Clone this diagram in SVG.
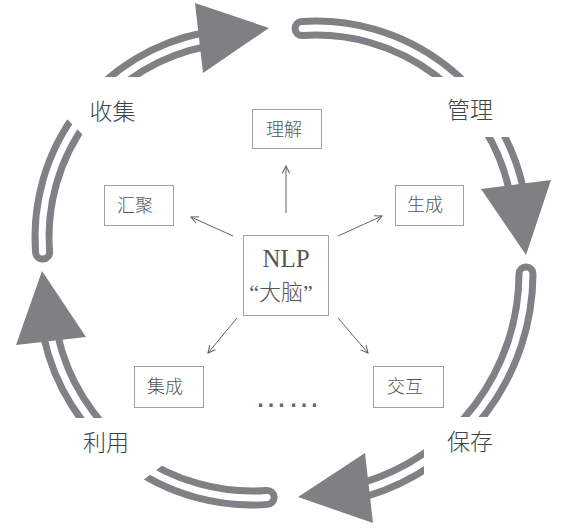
<svg xmlns="http://www.w3.org/2000/svg" width="574" height="528" viewBox="0 0 574 528">
<defs>
<style>
.bo{fill:none;stroke:#808185;stroke-width:21;stroke-linecap:round}
.bi{fill:none;stroke:#ffffff;stroke-width:7;stroke-linecap:round}
.head{fill:#7e8084}
.mask{fill:#ffffff}
.big{font-family:"Noto Sans CJK SC","Noto Sans",sans-serif;font-size:23px;font-weight:300;fill:#3d4449;text-anchor:middle}
.box{fill:#ffffff;stroke:#a0a0a0;stroke-width:1}
.lbl{font-family:"Noto Sans CJK SC","Noto Sans",sans-serif;font-size:18px;font-weight:300;fill:#555555;text-anchor:middle}
.con{stroke:#666666;stroke-width:1;fill:none}
</style>
<marker id="ah" viewBox="0 0 10 10" refX="9" refY="5" markerWidth="9" markerHeight="9" markerUnits="userSpaceOnUse" orient="auto">
<path d="M1,1 L9,5 L1,9" fill="none" stroke="#666666" stroke-width="1.2"/>
</marker>
</defs>
<rect width="574" height="528" fill="#ffffff"/>
<g id="cycle">
<path class="bo" d="M42.6,252.1 A201,201 0 0 1 205,39.6"/>
<path class="bi" d="M42.6,252.1 A201,201 0 0 1 205,39.6"/>
<path class="bo" d="M302.1,28.5 A205,205 0 0 1 516.3,189.5"/>
<path class="bi" d="M302.1,28.5 A205,205 0 0 1 516.3,189.5"/>
<path class="bo" d="M526,274 A226,226 0 0 1 364.4,489.6"/>
<path class="bi" d="M526,274 A226,226 0 0 1 364.4,489.6"/>
<path class="bo" d="M267.1,497.4 A206,206 0 0 1 50.7,335.9"/>
<path class="bi" d="M267.1,497.4 A206,206 0 0 1 50.7,335.9"/>
<polygon class="mask" points="50,102 75,77 175,77 175,152 100,152"/>
<rect class="mask" x="415" y="77" width="125" height="60"/>
<rect class="mask" x="424" y="417" width="136" height="100"/>
<polygon class="mask" points="35,418 135,418 180,452 130,490 35,490"/>
<polygon class="head" points="195,3 269,28 203,73"/>
<polygon class="head" points="481,189 551,180 526,255"/>
<polygon class="head" points="365,453 298,497 373,523"/>
<polygon class="head" points="42,271 86,337 16,345"/>
</g>
<g id="stage-labels">
<text class="big" x="112.5" y="119.5">收集</text>
<text class="big" x="470" y="118">管理</text>
<text class="big" x="470" y="450">保存</text>
<text class="big" x="106" y="451">利用</text>
</g>
<g id="connectors">
<line class="con" x1="286" y1="213" x2="286" y2="166" marker-end="url(#ah)"/>
<line class="con" x1="338" y1="236" x2="382" y2="216" marker-end="url(#ah)"/>
<line class="con" x1="233" y1="236" x2="191" y2="217" marker-end="url(#ah)"/>
<line class="con" x1="237" y1="318" x2="208" y2="353" marker-end="url(#ah)"/>
<line class="con" x1="338" y1="318" x2="368" y2="353" marker-end="url(#ah)"/>
</g>
<g id="node-nlp">
<rect class="box" x="243.5" y="235.5" width="85" height="80"/>
<text x="286" y="267" font-family="Liberation Serif, serif" font-size="25" fill="#555555" text-anchor="middle">NLP</text>
<text x="281" y="300" font-family="Liberation Serif, 'Noto Sans CJK SC', serif" font-size="22" font-weight="300" fill="#555555" text-anchor="middle">“大脑”</text>
</g>
<g id="node-lijie">
<rect class="box" x="252.5" y="109.5" width="69" height="39"/>
<text class="lbl" x="284" y="136">理解</text>
</g>
<g id="node-shengcheng">
<rect class="box" x="395.5" y="185.5" width="68" height="40"/>
<text class="lbl" x="425" y="211">生成</text>
</g>
<g id="node-huiju">
<rect class="box" x="104.5" y="185.5" width="69" height="40"/>
<text class="lbl" x="135" y="212">汇聚</text>
</g>
<g id="node-jicheng">
<rect class="box" x="134.5" y="366.5" width="69" height="41"/>
<text class="lbl" x="165" y="393">集成</text>
</g>
<g id="node-jiaohu">
<rect class="box" x="373.5" y="366.5" width="70" height="41"/>
<text class="lbl" x="405" y="393">交互</text>
</g>
<g id="more">
<text x="287.5" y="407" font-family="Liberation Sans, sans-serif" font-size="33" fill="#666666" text-anchor="middle">……</text>
</g>
</svg>
